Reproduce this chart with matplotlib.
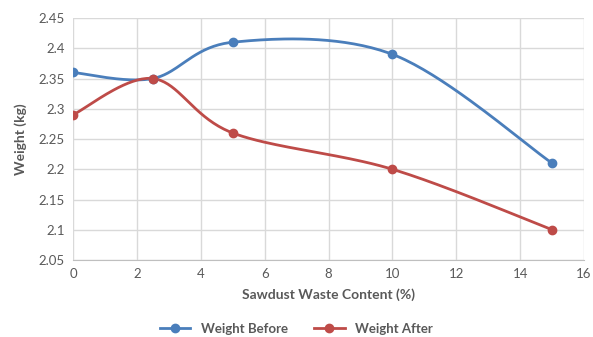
import numpy as np
import matplotlib
matplotlib.use("Agg")
import matplotlib.pyplot as plt

# sawdust content (%) and measured weights (kg)
content = [0, 2.5, 5, 10, 15]
weight_before = [2.36, 2.35, 2.41, 2.39, 2.21]
weight_after = [2.29, 2.35, 2.26, 2.20, 2.10]

XMIN, XMAX = 0, 16
YMIN, YMAX = 2.05, 2.45

plt.rcParams['font.family'] = ['Lato', 'DejaVu Sans']

fig = plt.figure(figsize=(5.93, 3.37), dpi=100)
ax = fig.add_axes([0.123, 0.2285, 0.862, 0.718])


def smooth(xs, ys, sx, sy, n=40):
    # bezier smoothing like spreadsheet "smoothed line", done in screen-ish units
    px = np.asarray(xs, float) * sx
    py = np.asarray(ys, float) * sy
    P = np.column_stack([px, py])
    P = np.vstack([P[0], P, P[-1]])
    out = []
    t = np.linspace(0, 1, n)[:, None]
    for i in range(1, len(P) - 2):
        p0, p1 = P[i], P[i + 1]
        c1 = p0 + (P[i + 1] - P[i - 1]) / 6.0
        c2 = p1 - (P[i + 2] - P[i]) / 6.0
        seg = ((1 - t) ** 3) * p0 + 3 * ((1 - t) ** 2) * t * c1 + 3 * (1 - t) * t ** 2 * c2 + t ** 3 * p1
        out.append(seg if i == 1 else seg[1:])
    out = np.vstack(out)
    return out[:, 0] / sx, out[:, 1] / sy


sx = 511.0 / (XMAX - XMIN)
sy = 242.0 / (YMAX - YMIN)

series = [
    (weight_before, '#4A7EBB', 'Weight Before'),
    (weight_after, '#BE4B48', 'Weight After'),
]
for ys, col, name in series:
    cx, cy = smooth(content, ys, sx, sy)
    ax.plot(cx, cy, color=col, lw=2.0, zorder=3)
    ax.plot(content, ys, 'o', color=col, ms=6, zorder=4)
    ax.plot([], [], '-o', color=col, lw=2.0, ms=6, label=name)

ax.set_xlim(XMIN, XMAX)
ax.set_ylim(YMIN, YMAX)
ax.set_xticks(np.arange(0, 17, 2))
ax.set_yticks(np.arange(2.05, 2.451, 0.05))
ax.set_yticklabels(['2.05', '2.1', '2.15', '2.2', '2.25', '2.3', '2.35', '2.4', '2.45'])
ax.grid(True, color='#d9d9d9', lw=1.0)
ax.set_axisbelow(True)
ax.tick_params(length=0, labelsize=9.5, colors='#595959', pad=6)
for s in ['top', 'right', 'left']:
    ax.spines[s].set_visible(False)
ax.spines['bottom'].set_color('#bfbfbf')

ax.set_xlabel('Sawdust Waste Content (%)', fontsize=10, fontweight='bold', color='#595959', labelpad=6)
ax.set_ylabel('Weight (kg)', fontsize=10, fontweight='bold', color='#595959', labelpad=8)

leg = fig.legend(loc='center', bbox_to_anchor=(0.5, 0.025), ncol=2, frameon=False,
                 fontsize=9.5, handlelength=2.3, columnspacing=2.0)
for t in leg.get_texts():
    t.set_fontweight('bold')
    t.set_color('#595959')

fig.savefig('out.png', dpi=100)
